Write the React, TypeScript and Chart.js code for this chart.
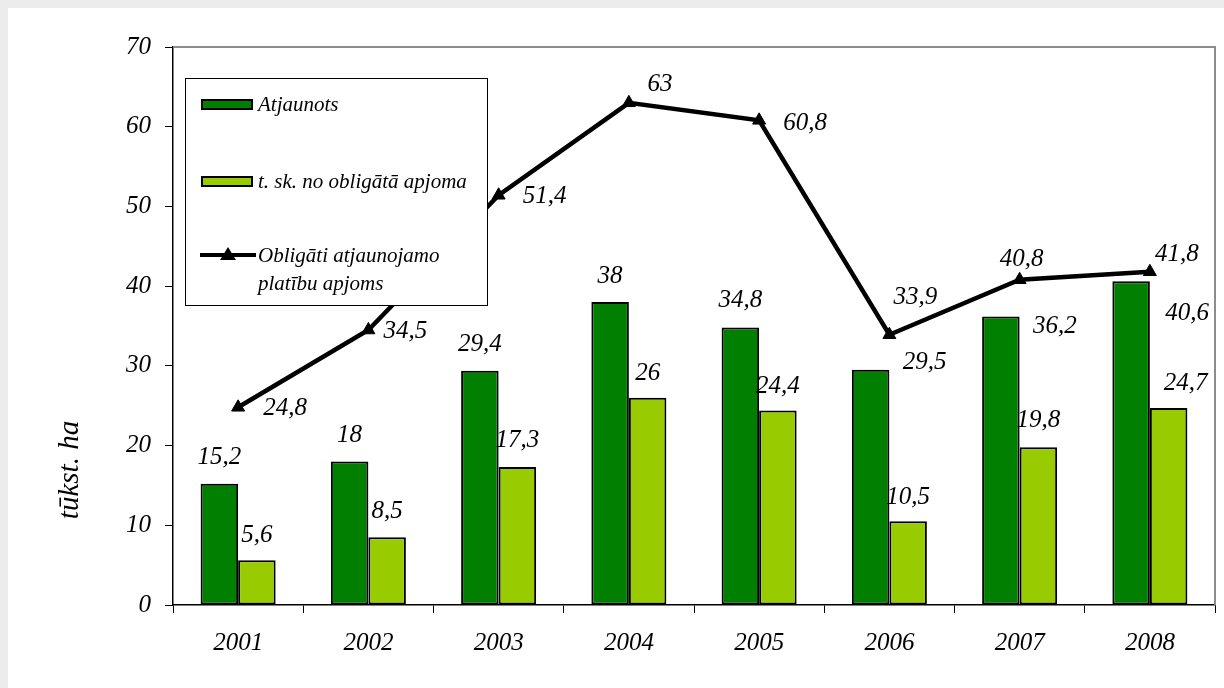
import React, { useEffect, useRef } from "react";
import { Chart, registerables } from "chart.js";

Chart.register(...registerables);

const years = ["2001", "2002", "2003", "2004", "2005", "2006", "2007", "2008"];
const atjaunots = [15.2, 18, 29.4, 38, 34.8, 29.5, 36.2, 40.6];
const tSk = [5.6, 8.5, 17.3, 26, 24.4, 10.5, 19.8, 24.7];
const obligati = [24.8, 34.5, 51.4, 63, 60.8, 33.9, 40.8, 41.8];
const yTicks = [0, 10, 20, 30, 40, 50, 60, 70];

// label placement (pixel offsets from the mark)
const atjOffX = [0, 0, 0, 0, 0, 54, 54, 56];
const atjOffY = [-26, -26, -26, -26, -27, -7, 10, 32];
const tskOffX = [0, 0, 0, 0, 0, 0, 0, 17];
const tskOffY = [-25, -26, -27, -24, -24, -24, -27, -25];
const oblOffX = [47, 37, 46, 31, 46, 26, 2, 27];
const oblOffY = [1, 1, 1, -18, 3, -37, -20, -17];

const DARK = "#007f00";
const LIGHT = "#99cc00";
const FONT = "'Liberation Serif', 'Times New Roman', serif";

const fmt = (v: number) => String(v).replace(".", ",");

const decorPlugin = {
  id: "decor",
  beforeDatasetsDraw(chart: any) {
    const { ctx, chartArea } = chart;
    ctx.save();
    ctx.strokeStyle = "#8c8c8c";
    ctx.lineWidth = 2;
    ctx.beginPath();
    ctx.moveTo(chartArea.left, chartArea.top);
    ctx.lineTo(chartArea.right, chartArea.top);
    ctx.lineTo(chartArea.right, chartArea.bottom);
    ctx.stroke();
    ctx.restore();
  },
  afterDatasetsDraw(chart: any) {
    const { ctx } = chart;
    ctx.save();
    ctx.font = `italic 25px ${FONT}`;
    ctx.fillStyle = "#000";
    ctx.textAlign = "center";
    ctx.textBaseline = "middle";
    const sets = [
      { idx: 0, vals: atjaunots, ox: atjOffX, oy: atjOffY },
      { idx: 1, vals: tSk, ox: tskOffX, oy: tskOffY },
      { idx: 2, vals: obligati, ox: oblOffX, oy: oblOffY },
    ];
    sets.forEach((s) => {
      const meta = chart.getDatasetMeta(s.idx);
      meta.data.forEach((el: any, i: number) => {
        ctx.fillText(fmt(s.vals[i]), el.x + s.ox[i], el.y + s.oy[i]);
      });
    });
    ctx.restore();
  },
  afterDraw(chart: any) {
    const { ctx } = chart;
    ctx.save();
    // legend box
    ctx.fillStyle = "#fff";
    ctx.fillRect(177, 70, 302, 227);
    ctx.strokeStyle = "#000";
    ctx.lineWidth = 1;
    ctx.strokeRect(177.5, 70.5, 302, 227);

    ctx.font = `italic 21px ${FONT}`;
    ctx.textAlign = "left";
    ctx.textBaseline = "middle";
    // item 1
    ctx.fillStyle = DARK;
    ctx.fillRect(194, 92, 50, 9);
    ctx.lineWidth = 2;
    ctx.strokeRect(194, 92, 50, 9);
    ctx.fillStyle = "#000";
    ctx.fillText("Atjaunots", 250, 97);
    // item 2
    ctx.fillStyle = LIGHT;
    ctx.fillRect(194, 169, 50, 9);
    ctx.strokeRect(194, 169, 50, 9);
    ctx.fillStyle = "#000";
    ctx.fillText("t. sk. no obligātā apjoma", 250, 174);
    // item 3
    ctx.lineWidth = 4;
    ctx.beginPath();
    ctx.moveTo(192, 247);
    ctx.lineTo(248, 247);
    ctx.stroke();
    ctx.beginPath();
    ctx.moveTo(220, 239);
    ctx.lineTo(228, 252);
    ctx.lineTo(212, 252);
    ctx.closePath();
    ctx.fill();
    ctx.fillText("Obligāti atjaunojamo", 250, 248);
    ctx.fillText("platību apjoms", 250, 276);

    // y title
    ctx.font = `italic 29px ${FONT}`;
    ctx.textAlign = "center";
    ctx.translate(62, 462);
    ctx.rotate(-Math.PI / 2);
    ctx.fillText("tūkst. ha", 0, 0);
    ctx.restore();
  },
};

export default function App() {
  const ref = useRef<HTMLCanvasElement>(null);
  useEffect(() => {
    document.body.style.background = "#ececec";
    const chart = new Chart(ref.current as HTMLCanvasElement, {
      type: "bar",
      data: {
        labels: years,
        datasets: [
          {
            type: "bar",
            label: "Atjaunots",
            data: atjaunots,
            backgroundColor: DARK,
            borderColor: "#000",
            borderWidth: 2,
            borderSkipped: false,
            categoryPercentage: 0.576,
            barPercentage: 1,
            order: 2,
          } as any,
          {
            type: "bar",
            label: "t. sk. no obligātā apjoma",
            data: tSk,
            backgroundColor: LIGHT,
            borderColor: "#000",
            borderWidth: 2,
            borderSkipped: false,
            categoryPercentage: 0.576,
            barPercentage: 1,
            order: 2,
          } as any,
          {
            type: "line",
            label: "Obligāti atjaunojamo platību apjoms",
            data: obligati,
            borderColor: "#000",
            borderWidth: 4.5,
            pointStyle: "triangle",
            pointRadius: 7.5,
            pointBackgroundColor: "#000",
            pointBorderColor: "#000",
            pointBorderWidth: 1,
            tension: 0,
            order: 0,
          } as any,
        ],
      },
      options: {
        responsive: false,
        animation: false,
        devicePixelRatio: 1,
        layout: { padding: { top: 39, right: 9, left: 0, bottom: 0 } },
        plugins: { legend: { display: false }, tooltip: { enabled: false } },
        scales: {
          x: {
            offset: true,
            grid: {
              display: true,
              offset: true,
              drawOnChartArea: false,
              drawTicks: true,
              tickLength: 8,
              color: "#000",
              lineWidth: 1,
            },
            border: { display: true, color: "#000", width: 1.5 },
            ticks: {
              color: "#000",
              padding: 15,
              font: { family: FONT, size: 25, style: "italic" },
              maxRotation: 0,
            },
            afterFit: (s: any) => {
              s.height = 83;
            },
          },
          y: {
            min: 0,
            max: 70,
            afterBuildTicks: (s: any) => {
              s.ticks = yTicks.map((v) => ({ value: v }));
            },
            grid: {
              display: true,
              drawOnChartArea: false,
              drawTicks: true,
              tickLength: 8,
              color: "#000",
              lineWidth: 1,
            },
            border: { display: true, color: "#000", width: 1.5 },
            ticks: {
              color: "#000",
              padding: 14,
              font: { family: FONT, size: 25, style: "italic" },
            },
            afterFit: (s: any) => {
              s.width = 165;
            },
          },
        },
      } as any,
      plugins: [decorPlugin],
    });
    return () => chart.destroy();
  }, []);
  return (
    <div
      style={{
        position: "absolute",
        left: 8,
        top: 8,
        width: 1216,
        height: 680,
        background: "#fff",
      }}
    >
      <canvas ref={ref} width={1216} height={680} />
    </div>
  );
}
